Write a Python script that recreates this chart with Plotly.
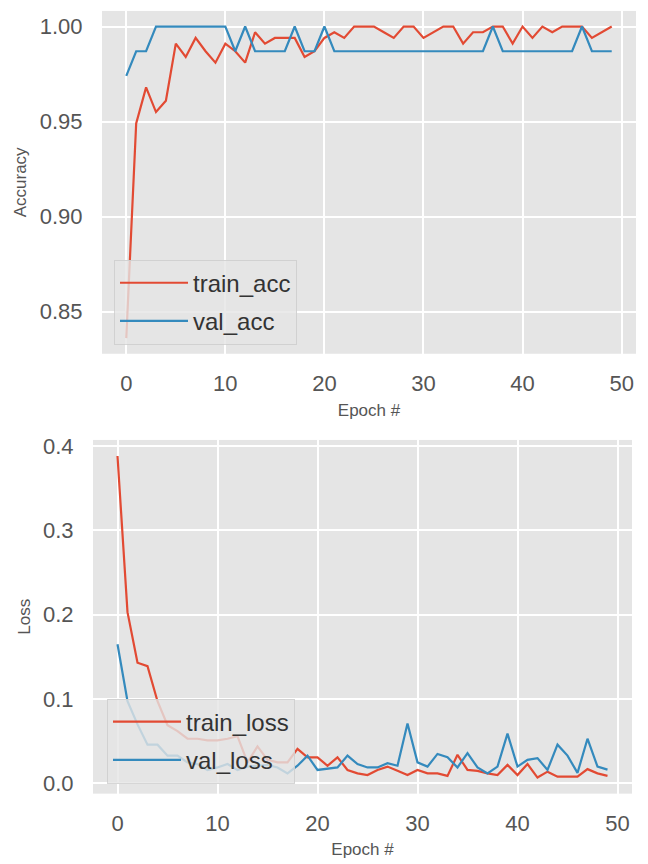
import plotly.graph_objects as go

epochs = list(range(50))

train_acc = [0.836, 0.949, 0.968, 0.955, 0.961, 0.991, 0.984, 0.994, 0.987, 0.981,
             0.991, 0.987, 0.981, 0.997, 0.991, 0.994, 0.994, 0.994, 0.984, 0.987,
             0.994, 0.997, 0.994, 1.000, 1.000, 1.000, 0.997, 0.994, 1.000, 1.000,
             0.994, 0.997, 1.000, 1.000, 0.991, 0.997, 0.997, 1.000, 1.000, 0.991,
             1.000, 0.994, 1.000, 0.997, 1.000, 1.000, 1.000, 0.994, 0.997, 1.000]

val_acc = [0.974, 0.987, 0.987, 1.000, 1.000, 1.000, 1.000, 1.000, 1.000, 1.000,
           1.000, 0.987, 1.000, 0.987, 0.987, 0.987, 0.987, 1.000, 0.987, 0.987,
           1.000, 0.987, 0.987, 0.987, 0.987, 0.987, 0.987, 0.987, 0.987, 0.987,
           0.987, 0.987, 0.987, 0.987, 0.987, 0.987, 0.987, 1.000, 0.987, 0.987,
           0.987, 0.987, 0.987, 0.987, 0.987, 0.987, 1.000, 0.987, 0.987, 0.987]

train_loss = [0.388, 0.203, 0.143, 0.139, 0.0975, 0.069, 0.062, 0.053, 0.053, 0.051,
              0.051, 0.053, 0.056, 0.025, 0.044, 0.028, 0.025, 0.025, 0.041, 0.031,
              0.031, 0.021, 0.031, 0.016, 0.012, 0.010, 0.016, 0.020, 0.015, 0.010,
              0.016, 0.012, 0.012, 0.009, 0.034, 0.016, 0.015, 0.012, 0.010, 0.022,
              0.010, 0.023, 0.007, 0.014, 0.008, 0.008, 0.008, 0.017, 0.012, 0.009]

val_loss = [0.165, 0.0975, 0.070, 0.046, 0.046, 0.033, 0.033, 0.025, 0.023, 0.016,
            0.019, 0.023, 0.016, 0.020, 0.021, 0.022, 0.019, 0.012, 0.021, 0.033,
            0.016, 0.0175, 0.019, 0.033, 0.023, 0.019, 0.019, 0.024, 0.021, 0.071,
            0.025, 0.020, 0.035, 0.031, 0.019, 0.036, 0.019, 0.012, 0.020, 0.059,
            0.020, 0.028, 0.030, 0.016, 0.046, 0.033, 0.0125, 0.053, 0.020, 0.0164]

acc_ticks = [0.85, 0.90, 0.95, 1.00]
loss_ticks = [0.0, 0.1, 0.2, 0.3, 0.4]
epoch_ticks = [0, 10, 20, 30, 40, 50]

RED = "#E24A33"
BLUE = "#348ABD"
BG = "#E5E5E5"
FONT = "Liberation Sans, Arial, sans-serif"
W, H = 648, 864


def mpl_range(*series):
    lo = min(min(s) for s in series)
    hi = max(max(s) for s in series)
    pad = 0.05 * (hi - lo)
    return [lo - pad, hi + pad]


xr = [epochs[0] - 0.05 * (epochs[-1] - epochs[0]), epochs[-1] + 0.05 * (epochs[-1] - epochs[0])]

fig = go.Figure()
fig.add_trace(go.Scatter(x=epochs, y=train_acc, mode="lines", name="train_acc",
                         line=dict(color=RED, width=2.2), xaxis="x", yaxis="y",
                         legend="legend", legendgroup="a1"))
fig.add_trace(go.Scatter(x=epochs, y=val_acc, mode="lines", name="val_acc",
                         line=dict(color=BLUE, width=2.2), xaxis="x", yaxis="y",
                         legend="legend", legendgroup="a2"))
fig.add_trace(go.Scatter(x=epochs, y=train_loss, mode="lines", name="train_loss",
                         line=dict(color=RED, width=2.2), xaxis="x2", yaxis="y2",
                         legend="legend2", legendgroup="b1"))
fig.add_trace(go.Scatter(x=epochs, y=val_loss, mode="lines", name="val_loss",
                         line=dict(color=BLUE, width=2.2), xaxis="x2", yaxis="y2",
                         legend="legend2", legendgroup="b2"))

common_axis = dict(showgrid=True, gridcolor="white", gridwidth=1.5, zeroline=False,
                   showline=False, ticks="outside", tickcolor="rgba(0,0,0,0)",
                   tickfont=dict(family=FONT, size=22, color="#555555"))

legend_common = dict(bgcolor="rgba(229,229,229,0.8)", bordercolor="rgba(204,204,204,0.8)",
                     borderwidth=1, font=dict(family=FONT, size=24, color="#333333"),
                     xanchor="left", yanchor="top", tracegroupgap=4,
                     traceorder="grouped", itemwidth=68)

fig.update_layout(
    width=W, height=H,
    margin=dict(l=0, r=0, t=0, b=0),
    paper_bgcolor="white",
    plot_bgcolor=BG,
    font=dict(family=FONT, color="#555555"),
    xaxis=dict(domain=[102 / W, 636 / W], anchor="y", range=xr, tickvals=epoch_ticks,
               ticklen=10,
               title=dict(text="Epoch #", font=dict(family=FONT, size=17, color="#555555"), standoff=8),
               **common_axis),
    yaxis=dict(domain=[1 - 351 / H, 1 - 5 / H], anchor="x", range=mpl_range(train_acc, val_acc),
               tickvals=acc_ticks, tickformat=".2f", ticklen=14,
               title=dict(text="Accuracy", font=dict(family=FONT, size=17, color="#555555"), standoff=8),
               **common_axis),
    xaxis2=dict(domain=[93 / W, 632 / W], anchor="y2", range=xr, tickvals=epoch_ticks,
                ticklen=10,
                title=dict(text="Epoch #", font=dict(family=FONT, size=17, color="#555555"), standoff=8),
                **common_axis),
    yaxis2=dict(domain=[1 - 795 / H, 1 - 438 / H], anchor="x2", range=mpl_range(train_loss, val_loss),
                tickvals=loss_ticks, tickformat=".1f", ticklen=14,
                title=dict(text="Loss", font=dict(family=FONT, size=17, color="#555555"), standoff=8),
                **common_axis),
    legend=dict(x=114 / W, y=1 - 256 / H, **legend_common),
    legend2=dict(x=107 / W, y=1 - 699 / H, **legend_common),
    showlegend=True,
)

fig.write_html("out.html", config={"displayModeBar": False},
               post_script="document.body.style.margin='0';document.body.style.overflow='hidden';")
